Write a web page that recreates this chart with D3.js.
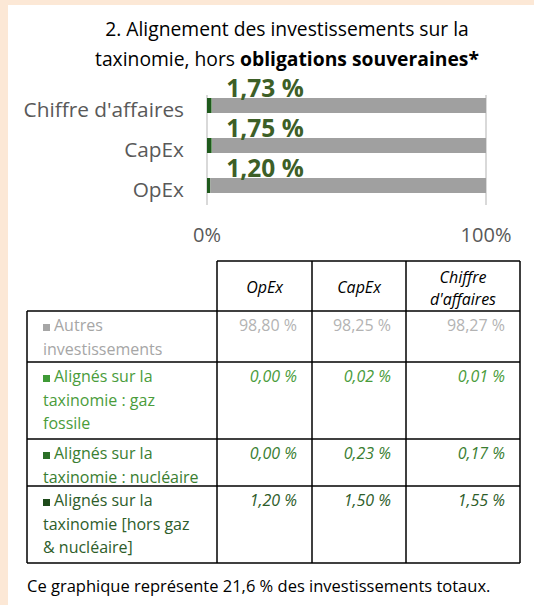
<!DOCTYPE html>
<html>
<head>
<meta charset="UTF-8">
<script src="https://cdn.jsdelivr.net/npm/d3@7"></script>
<style>
  body { margin: 0; background: #fff; }
  svg { display: block; font-family: 'Open Sans', sans-serif; }
</style>
</head>
<body>
<svg id="chart" width="534" height="609"></svg>
<script>
// bar chart data, top to bottom
var categories = ["Chiffre d'affaires", "CapEx", "OpEx"];
var horsGaz = [1.55, 1.50, 1.20];
var nucleaire = [0.17, 0.23, 0.00];
var gazFossile = [0.01, 0.02, 0.00];
var autres = [98.27, 98.25, 98.80];
var axisTicks = [0, 100];

// table
var tableColumns = ["OpEx", "CapEx", "Chiffre d'affaires"];
var tableHeaders = [["OpEx"], ["CapEx"], ["Chiffre", "d'affaires"]];
var rowLabels = [
    ["Autres", "investissements"],
    ["Alignés sur la", "taxinomie : gaz", "fossile"],
    ["Alignés sur la", "taxinomie : nucléaire"],
    ["Alignés sur la", "taxinomie [hors gaz", "& nucléaire]"]
];
var footer = "Ce graphique représente 21,6 % des investissements totaux.";

var svg = d3.select("#chart");

// page background strips
svg.append("rect").attr("x", 0).attr("y", 0).attr("width", 534).attr("height", 5).attr("fill", "#fce8d6");
svg.append("rect").attr("x", 0).attr("y", 0).attr("width", 8).attr("height", 605).attr("fill", "#fce8d6");

// title
var title = svg.append("text")
    .attr("text-anchor", "middle")
    .attr("font-size", 19.3)
    .attr("fill", "#000");
title.append("tspan").attr("x", 287).attr("y", 36).text("2. Alignement des investissements sur la");
var t2 = title.append("tspan").attr("x", 287).attr("y", 65.5);
t2.append("tspan").text("taxinomie, hors ");
t2.append("tspan").attr("font-weight", "bold").text("obligations souveraines*");

// scales
var x = d3.scaleLinear().domain([0, 100]).range([207, 486]);
var y = d3.scaleBand().domain(categories).range([85.5, 205.5])
    .paddingInner(0.625).paddingOuter(0.3125);

// stacked series
var seriesKeys = ["horsGaz", "nucleaire", "gazFossile", "autres"];
var seriesColor = d3.scaleOrdinal().domain(seriesKeys)
    .range(["#1f5a1c", "#2f7d2a", "#4caf46", "#a0a0a0"]);
var rows = categories.map(function (c, i) {
    return { cat: c, horsGaz: horsGaz[i], nucleaire: nucleaire[i], gazFossile: gazFossile[i], autres: autres[i] };
});
var stack = d3.stack().keys(seriesKeys)(rows);

// axis gridlines at 0% and 100%
svg.append("g").selectAll("line")
    .data(axisTicks)
    .enter()
    .append("line")
    .attr("x1", function (d) { return x(d); })
    .attr("x2", function (d) { return x(d); })
    .attr("y1", 95)
    .attr("y2", 205)
    .attr("stroke", "#d9d9d9")
    .attr("stroke-width", 2);

svg.append("g").selectAll("g")
    .data(stack)
    .enter()
    .append("g")
    .attr("fill", function (d) { return seriesColor(d.key); })
    .selectAll("rect")
    .data(function (d) { return d; })
    .enter()
    .append("rect")
    .attr("x", function (d) { return x(d[0]); })
    .attr("y", function (d) { return y(d.data.cat); })
    .attr("width", function (d) { return x(d[1]) - x(d[0]); })
    .attr("height", y.bandwidth());

// category labels
svg.append("g").selectAll("text")
    .data(categories)
    .enter()
    .append("text")
    .attr("x", x(0) - 23)
    .attr("y", function (d) { return y(d) + y.bandwidth() / 2 + 11; })
    .attr("text-anchor", "end")
    .attr("font-size", 20.8)
    .attr("fill", "#595959")
    .text(function (d) { return d; });

// x tick labels
svg.append("g").selectAll("text")
    .data(axisTicks)
    .enter()
    .append("text")
    .attr("x", function (d) { return x(d); })
    .attr("y", 242)
    .attr("text-anchor", "middle")
    .attr("font-size", 20)
    .attr("fill", "#595959")
    .text(function (d) { return d + "%"; });

// aligned total labels
var pct = function (v) { return d3.format(".2f")(v).replace(".", ",") + " %"; };
svg.append("g").selectAll("text")
    .data(rows)
    .enter()
    .append("text")
    .attr("x", x(0) + 58)
    .attr("y", function (d) { return y(d.cat) - 1; })
    .attr("text-anchor", "middle")
    .attr("font-size", 24.5)
    .attr("font-weight", "bold")
    .attr("fill", "#3d5f27")
    .text(function (d) { return pct(d.horsGaz + d.nucleaire + d.gazFossile); });

// ---- table ----
var colX = [27, 217, 312, 406, 520];
var rowY = [261, 311, 362, 439, 486, 563];
var tableKeys = ["autres", "gazFossile", "nucleaire", "horsGaz"];
var labelColor = ["#a6a6a6", "#4a9c3b", "#3a7e31", "#2e5d2a"];
var squareColor = ["#a6a6a6", "#3f9a36", "#2b6f27", "#1d4a1a"];
var valueColor = ["#b3b3b3", "#4a9c3b", "#3a7e31", "#2e5d2a"];
var seriesArrays = { autres: autres, gazFossile: gazFossile, nucleaire: nucleaire, horsGaz: horsGaz };

var table = svg.append("g");
var border = { stroke: "#000", width: 1.5 };

// horizontal lines
table.append("line").attr("x1", colX[1]).attr("x2", colX[4]).attr("y1", rowY[0]).attr("y2", rowY[0])
    .attr("stroke", border.stroke).attr("stroke-width", border.width);
table.selectAll(".hline")
    .data(rowY.slice(1))
    .enter()
    .append("line")
    .attr("class", "hline")
    .attr("x1", colX[0]).attr("x2", colX[4])
    .attr("y1", function (d) { return d; }).attr("y2", function (d) { return d; })
    .attr("stroke", border.stroke).attr("stroke-width", border.width);
// vertical lines
table.selectAll(".vline")
    .data(colX)
    .enter()
    .append("line")
    .attr("class", "vline")
    .attr("x1", function (d) { return d; }).attr("x2", function (d) { return d; })
    .attr("y1", function (d, i) { return i === 0 ? rowY[1] : rowY[0]; })
    .attr("y2", rowY[5])
    .attr("stroke", border.stroke).attr("stroke-width", border.width);

// header
tableHeaders.forEach(function (lines, j) {
    var cx = (colX[j + 1] + colX[j + 2]) / 2;
    var t = table.append("text")
        .attr("text-anchor", "middle")
        .attr("font-size", 16)
        .attr("font-style", "italic")
        .attr("fill", "#000");
    lines.forEach(function (l, k) {
        var by = lines.length === 1 ? 293 : 283 + k * 22;
        t.append("tspan").attr("x", cx).attr("y", by).text(l);
    });
});

// body rows
rowLabels.forEach(function (lines, i) {
    var top = rowY[i + 1];
    table.append("rect")
        .attr("x", 43).attr("y", top + 13)
        .attr("width", 7).attr("height", 7)
        .attr("fill", squareColor[i]);
    var t = table.append("text")
        .attr("font-size", 16)
        .attr("fill", labelColor[i]);
    lines.forEach(function (l, k) {
        t.append("tspan")
            .attr("x", k === 0 ? 54 : 43)
            .attr("y", top + 20 + k * 23.5)
            .text(l);
    });
    var arr = seriesArrays[tableKeys[i]];
    tableColumns.forEach(function (col, j) {
        table.append("text")
            .attr("x", colX[j + 2] - 15)
            .attr("y", top + 20)
            .attr("text-anchor", "end")
            .attr("font-size", 16)
            .attr("font-style", i === 0 ? "normal" : "italic")
            .attr("fill", valueColor[i])
            .text(pct(arr[categories.indexOf(col)]));
    });
});

// footer
svg.append("text")
    .attr("x", 27)
    .attr("y", 592)
    .attr("font-size", 16.5)
    .attr("fill", "#000")
    .text(footer);
</script>
</body>
</html>
